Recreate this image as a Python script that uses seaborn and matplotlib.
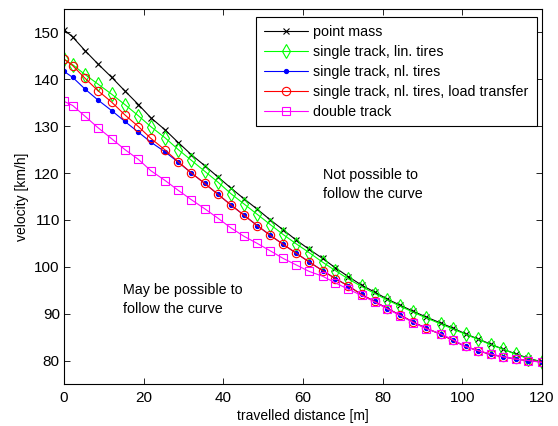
import seaborn as sns
import matplotlib.pyplot as plt

# travelled distance [m] (common sample positions)
distance = [0, 2.2, 5.3, 8.5, 12.0, 15.3, 18.7, 21.8, 25.4, 28.7,
            32.0, 35.3, 38.6, 41.9, 45.2, 48.5, 51.8, 55.0, 58.3, 61.6,
            64.9, 68.1, 71.4, 74.7, 78.0, 81.2, 84.4, 87.7, 90.9,
            94.6, 97.7, 100.8, 104.0, 107.1, 110.3, 113.5, 116.6, 120.0]

# velocity [km/h]
point_mass = [150.6, 149.0, 146.1, 143.3, 140.4, 137.5, 134.6, 131.8, 129.2, 126.5,
              123.9, 121.6, 119.2, 116.8, 114.5, 112.3, 110.0, 107.9, 105.7, 103.7,
              101.8, 99.8, 97.9, 96.1, 94.6, 93.1, 91.8, 90.5, 89.3,
              88.0, 86.9, 85.7, 84.6, 83.5, 82.4, 81.4, 80.5, 79.7]
st_lin = [144.3, 143.1, 141.0, 139.0, 136.8, 134.6, 132.2, 129.9, 127.5, 125.0,
          122.7, 120.4, 118.1, 115.6, 113.4, 111.2, 109.0, 106.9, 104.9, 103.0,
          101.0, 99.2, 97.4, 95.8, 94.3, 92.9, 91.6, 90.3, 89.1,
          87.8, 86.7, 85.6, 84.5, 83.4, 82.4, 81.3, 80.4, 79.7]
st_nl = [141.7, 140.4, 137.9, 135.6, 133.3, 131.0, 128.7, 126.6, 124.5, 122.3,
         120.0, 117.8, 115.5, 113.2, 111.0, 108.8, 106.7, 104.8, 102.9, 101.0,
         99.2, 97.5, 95.9, 94.1, 92.6, 91.1, 89.7, 88.2, 86.9,
         85.6, 84.3, 83.0, 82.1, 81.3, 80.8, 80.3, 80.0, 79.7]
st_nl_lt = [144.3, 142.9, 140.2, 137.6, 135.1, 132.4, 129.9, 127.4, 124.9, 122.4,
            120.0, 117.8, 115.5, 113.2, 111.0, 108.8, 106.7, 104.8, 102.9, 101.0,
            99.2, 97.5, 95.9, 94.1, 92.6, 91.1, 89.7, 88.2, 86.9,
            85.6, 84.3, 83.0, 82.1, 81.3, 80.8, 80.3, 80.0, 79.7]
double_track = [135.3, 134.4, 132.1, 129.7, 127.3, 125.0, 122.9, 120.5, 118.4, 116.3,
                114.3, 112.4, 110.4, 108.3, 106.5, 105.0, 103.4, 101.8, 100.4, 99.0,
                98.0, 96.6, 95.2, 93.9, 92.5, 91.0, 89.6, 88.1, 86.8,
                85.7, 84.4, 83.0, 82.1, 81.4, 80.8, 80.3, 80.0, 79.6]

labels = ["point mass", "single track, lin. tires", "single track, nl. tires",
          "single track, nl. tires, load transfer", "double track"]
series = [point_mass, st_lin, st_nl, st_nl_lt, double_track]
colors = ["black", "#00ff00", "#0000ff", "#ff0000", "#ff00ff"]
markers = ["x", "d", ".", "o", "s"]
msizes = [5, 7, 6, 6, 6]

sns.set_style("ticks")
plt.rcParams["font.family"] = ["Liberation Sans", "DejaVu Sans"]
plt.rcParams["font.size"] = 10
plt.rcParams["text.color"] = "black"
plt.rcParams["axes.labelcolor"] = "black"

fig = plt.figure(figsize=(5.58, 4.26), dpi=100)
ax = fig.add_axes([0.1147, 0.0986, 0.9713 - 0.1147, 0.9789 - 0.0986])

for y, lab, c, m, ms in zip(series, labels, colors, markers, msizes):
    sns.lineplot(x=distance, y=y, ax=ax, label=lab, color=c, marker=m,
                 markersize=ms, markeredgecolor=c,
                 markerfacecolor=(c if m == "." else "none"),
                 markeredgewidth=0.8, linewidth=0.8)

ax.text(65, 117.6, "Not possible to\nfollow the curve", va="center", ha="left",
        fontsize=10.3, linespacing=1.5, color="black")
ax.text(14.9, 93.0, "May be possible to\nfollow the curve", va="center", ha="left",
        fontsize=10.3, linespacing=1.5, color="black")

ax.set_xlim(0, 120)
ax.set_ylim(75, 155)
ax.set_xticks(range(0, 121, 20))
ax.set_yticks(range(80, 151, 10))
ax.set_xlabel("travelled distance [m]", fontsize=10, labelpad=3, color="black")
ax.set_ylabel("velocity [km/h]", fontsize=10, labelpad=4, color="black")
ax.tick_params(direction="in", length=4, width=0.6, top=True, right=True,
               labelsize=11, colors="black")
ax.tick_params(axis="x", pad=5)
ax.tick_params(axis="y", pad=3)
for s in ax.spines.values():
    s.set_visible(True)
    s.set_linewidth(0.8)
    s.set_color("black")

leg = ax.legend(loc="upper right", bbox_to_anchor=(0.989, 0.9795), borderaxespad=0,
                fancybox=False, edgecolor="black", framealpha=1, fontsize=10.3,
                handlelength=3.1, handletextpad=0.35, numpoints=1,
                labelspacing=0.42, borderpad=0.55)
leg.get_frame().set_linewidth(0.8)
for t in leg.get_texts():
    t.set_color("black")

fig.savefig("out.png", dpi=100)
